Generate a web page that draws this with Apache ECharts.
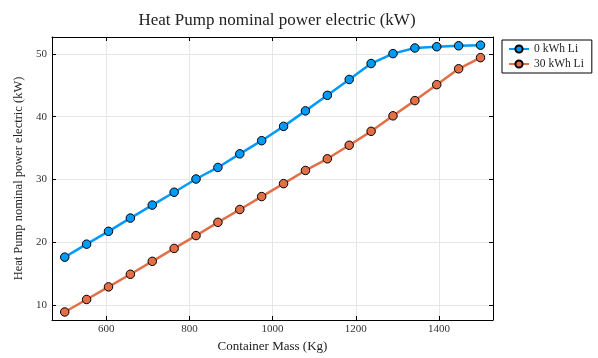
<!DOCTYPE html>
<html>
<head>
<meta charset="utf-8">
<script src="https://cdn.jsdelivr.net/npm/echarts@6/dist/echarts.min.js"></script>
<style>html,body{margin:0;padding:0;background:#fff}#c{width:598px;height:358px}</style>
</head>
<body>
<div id="c"></div>
<script>
const masses = [500, 552.63, 605.26, 657.89, 710.53, 763.16, 815.79, 868.42, 921.05, 973.68, 1026.32, 1078.95, 1131.58, 1184.21, 1236.84, 1289.47, 1342.11, 1394.74, 1447.37, 1500];
const power0 = [17.6, 19.67, 21.72, 23.83, 25.9, 27.95, 30.06, 31.9, 34.07, 36.17, 38.45, 40.92, 43.4, 45.93, 48.47, 50.05, 50.95, 51.15, 51.3, 51.4];
const power30 = [8.86, 10.85, 12.86, 14.87, 16.93, 18.99, 21.04, 23.15, 25.2, 27.26, 29.32, 31.42, 33.28, 35.44, 37.66, 40.13, 42.56, 45.1, 47.63, 49.41];
const seriesNames = ['0 kWh Li', '30 kWh Li'];
const titleText = 'Heat Pump nominal power electric (kW)';
const xName = 'Container Mass (Kg)';
const yName = 'Heat Pump nominal power electric (kW)';

const FONT = 'Liberation Serif';
const xMin = 469.4, xMax = 1530;
const yMin = 7.58, yMax = 52.7;

const chart = echarts.init(document.getElementById('c'));
const gridLine = {show: true, lineStyle: {color: '#e6e6e6', width: 1}};
const tickIn = {show: true, inside: true, length: 4, lineStyle: {color: '#000', width: 1}};
const axLine = {show: true, onZero: false, lineStyle: {color: '#000', width: 1}};
function xfmt(v){ return (Math.abs(v/200 - Math.round(v/200)) < 1e-6) ? String(Math.round(v)) : ''; }
function yfmt(v){ return (Math.abs(v/10 - Math.round(v/10)) < 1e-6) ? String(Math.round(v)) : ''; }

function mk(name, data, color){
  return {
    name: name, type: 'line', data: masses.map((m,i)=>[m, data[i]]),
    symbol: 'circle', symbolSize: 8.5,
    lineStyle: {color: color, width: 2.5},
    itemStyle: {color: color, borderColor: '#000', borderWidth: 1},
    emphasis: {disabled: true}, animation: false, z: 3
  };
}

chart.setOption({
  animation: false,
  backgroundColor: '#fff',
  title: {
    text: titleText, left: 272, top: 7, textAlign: 'center',
    textStyle: {fontFamily: FONT, fontSize: 17, fontWeight: 'normal', color: '#222'}
  },
  grid: {left: 52, right: 105, top: 37, bottom: 36, containLabel: false},
  legend: {
    orient: 'vertical', left: 502, top: 40,
    data: seriesNames,
    backgroundColor: '#fff', borderColor: '#000', borderWidth: 1,
    padding: [3, 8, 3, 6], itemGap: 3, itemWidth: 20, itemHeight: 9,
    textStyle: {fontFamily: FONT, fontSize: 11.5, color: '#222'}
  },
  xAxis: [{
    type: 'value', min: xMin, max: xMax, splitNumber: 5,
    name: xName, nameLocation: 'middle', nameGap: 20,
    nameTextStyle: {fontFamily: FONT, fontSize: 13, color: '#222'},
    axisLine: axLine, axisTick: tickIn, splitLine: gridLine,
    axisLabel: {formatter: xfmt, fontFamily: FONT, fontSize: 11, color: '#333', margin: 4, showMinLabel: false, showMaxLabel: false}
  }, {
    type: 'value', position: 'top', min: xMin, max: xMax, splitNumber: 5,
    axisLine: axLine, axisTick: tickIn, splitLine: {show: false}, axisLabel: {show: false}
  }],
  yAxis: [{
    type: 'value', min: yMin, max: yMax, splitNumber: 5,
    name: yName, nameLocation: 'middle', nameGap: 23,
    nameTextStyle: {fontFamily: FONT, fontSize: 12.5, color: '#222'},
    axisLine: axLine, axisTick: tickIn, splitLine: gridLine,
    axisLabel: {formatter: yfmt, fontFamily: FONT, fontSize: 11, color: '#333', margin: 5, showMinLabel: false, showMaxLabel: false}
  }, {
    type: 'value', position: 'right', min: yMin, max: yMax, splitNumber: 5,
    axisLine: axLine, axisTick: tickIn, splitLine: {show: false}, axisLabel: {show: false}
  }],
  series: [mk(seriesNames[0], power0, '#009AFA'), mk(seriesNames[1], power30, '#E36F47')]
});
</script>
</body>
</html>
